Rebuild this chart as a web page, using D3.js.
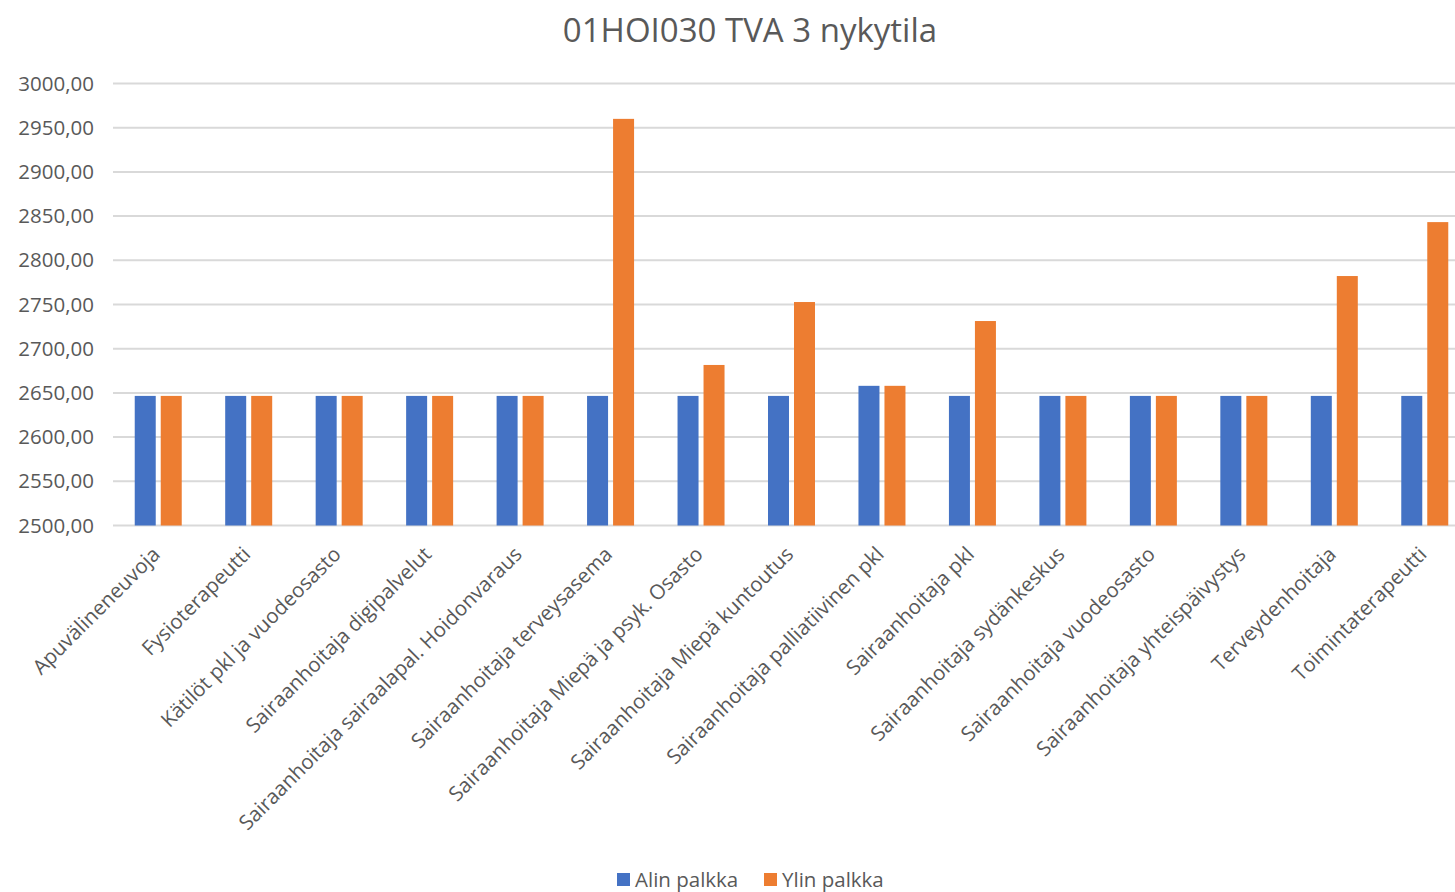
<!DOCTYPE html>
<html>
<head>
<meta charset="utf-8">
<script src="https://cdn.jsdelivr.net/npm/d3@7"></script>
<style>
  body { margin: 0; background: #fff; }
  text { font-family: "Open Sans", "Noto Sans", sans-serif; fill: #595959; }
  .grid line { stroke: #d9d9d9; stroke-width: 2; }
</style>
</head>
<body>
<script>
var categories = ["Apuvälineneuvoja", "Fysioterapeutti", "Kätilöt pkl ja vuodeosasto",
  "Sairaanhoitaja digipalvelut", "Sairaanhoitaja sairaalapal. Hoidonvaraus",
  "Sairaanhoitaja terveysasema", "Sairaanhoitaja Miepä ja psyk. Osasto",
  "Sairaanhoitaja Miepä kuntoutus", "Sairaanhoitaja palliatiivinen pkl",
  "Sairaanhoitaja pkl", "Sairaanhoitaja sydänkeskus", "Sairaanhoitaja vuodeosasto",
  "Sairaanhoitaja yhteispäivystys", "Terveydenhoitaja", "Toimintaterapeutti"];

var alin = [2646.6, 2646.6, 2646.6, 2646.6, 2646.6, 2646.6, 2646.6, 2646.6,
  2658, 2646.6, 2646.6, 2646.6, 2646.6, 2646.6, 2646.6];
var ylin = [2646.6, 2646.6, 2646.6, 2646.6, 2646.6, 2960, 2681.6, 2752.8,
  2658, 2731.3, 2646.6, 2646.6, 2646.6, 2782.2, 2843.2];

var seriesNames = ["Alin palkka", "Ylin palkka"];
var colors = ["#4472c4", "#ed7d31"];
var yTicks = d3.range(2500, 3001, 50);

var width = 1455,
    height = 892;

var margin = {left: 113, right: -15, top: 83.5, bottom: 366.5};

var svg = d3.select("body").append("svg")
    .attr("width", width)
    .attr("height", height);

var x = d3.scaleBand()
    .domain(categories)
    .range([margin.left, width - margin.right]);

var y = d3.scaleLinear()
    .domain([2500, 3000])
    .range([height - margin.bottom, margin.top]);

var fmt = function(d) { return d3.format(".2f")(d).replace(".", ","); };

// gridlines
svg.append("g")
    .attr("class", "grid")
  .selectAll("line")
    .data(yTicks)
  .enter().append("line")
    .attr("x1", margin.left)
    .attr("x2", width)
    .attr("y1", function(d) { return y(d); })
    .attr("y2", function(d) { return y(d); });

// y axis labels
var yAxis = svg.append("g")
    .attr("transform", "translate(" + (margin.left - 19) + ",0)")
    .call(d3.axisLeft(y).tickValues(yTicks).tickFormat(fmt).tickSize(0).tickPadding(0));
yAxis.select(".domain").remove();
yAxis.selectAll("text")
    .style("font-size", "20.5px")
    .attr("fill", "#595959");

// bars
var barW = 21, gap = 5;
var rows = categories.map(function(c, i) { return {cat: c, vals: [alin[i], ylin[i]]}; });

var group = svg.selectAll(".cat")
    .data(rows)
  .enter().append("g")
    .attr("class", "cat")
    .attr("transform", function(d) { return "translate(" + (x(d.cat) + x.bandwidth() / 2) + ",0)"; });

group.selectAll("rect")
    .data(function(d) { return d.vals; })
  .enter().append("rect")
    .attr("x", function(d, j) { return j == 0 ? -barW - gap / 2 : gap / 2; })
    .attr("width", barW)
    .attr("y", function(d) { return y(d); })
    .attr("height", function(d) { return y(2500) - y(d); })
    .attr("fill", function(d, j) { return colors[j]; });

// x labels, rotated
svg.append("g").selectAll("text")
    .data(categories)
  .enter().append("text")
    .attr("text-anchor", "end")
    .style("font-size", "20.5px")
    .attr("transform", function(d) {
      return "translate(" + (x(d) + x.bandwidth() / 2 - 2) + "," + (y(2500) + 25) + ") rotate(-45)";
    })
    .attr("dy", "0.35em")
    .text(function(d) { return d; });

// title
svg.append("text")
    .attr("x", 750)
    .attr("y", 42)
    .attr("text-anchor", "middle")
    .style("font-size", "33px")
    .text("01HOI030 TVA 3 nykytila");

// legend
var legendX = [617, 764];
var legend = svg.append("g").selectAll("g")
    .data(seriesNames)
  .enter().append("g")
    .attr("transform", function(d, i) { return "translate(" + legendX[i] + ",873)"; });

legend.append("rect")
    .attr("width", 13)
    .attr("height", 13)
    .attr("fill", function(d, i) { return colors[i]; });

legend.append("text")
    .attr("x", 18)
    .attr("y", 7)
    .attr("dy", "0.35em")
    .style("font-size", "20.5px")
    .text(function(d) { return d; });
</script>
</body>
</html>
